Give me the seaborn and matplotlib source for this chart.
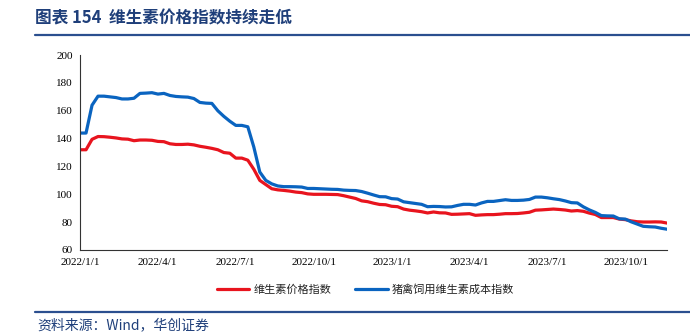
import numpy as np
import pandas as pd
import matplotlib
matplotlib.use("Agg")
import matplotlib.pyplot as plt
import seaborn as sns

# weekly dates starting 2022-01-01
start_date = "2022-01-01"
n_weeks = 99

vitamin_price_index = [
    132, 132, 139.5, 141.5, 141.4, 141, 140.5, 139.8, 139.6, 138.5,
    139, 139, 138.8, 138, 137.8, 136.3, 135.8, 135.8, 136, 135.5,
    134.5, 133.8, 133, 132, 130, 129.5, 126, 126, 124.5, 118,
    110, 107, 104, 103.2, 102.8, 102.3, 101.6, 101.2, 100.3, 100,
    100, 100, 99.9, 99.8, 99, 98, 97, 95.3, 94.7, 93.6,
    92.7, 92.5, 91.4, 91.1, 89.4, 88.6, 88.1, 87.5, 86.6, 87.3,
    86.7, 86.6, 85.6, 85.7, 85.9, 86.1, 84.9, 85.2, 85.4, 85.4,
    85.7, 86.1, 86.1, 86.2, 86.6, 87.1, 88.6, 88.8, 89.1, 89.4,
    89.1, 88.7, 88, 88.3, 87.8, 86.5, 85.5, 83.3, 83.3, 83.3,
    82.2, 81.8, 80.9, 80.3, 80.1, 80.1, 80.2, 80.1, 79.3,
]

feed_vitamin_cost_index = [
    144, 144, 164, 170.5, 170.5, 170, 169.5, 168.5, 168.5, 169,
    172.5, 172.7, 173, 172, 172.5, 171, 170.3, 170, 169.8, 168.8,
    166, 165.5, 165.3, 160, 156, 152.5, 149.5, 149.5, 148.5, 134,
    116, 110, 107.5, 106, 105.5, 105.5, 105.4, 105.2, 104.2, 104.2,
    104, 103.8, 103.6, 103.5, 103, 102.8, 102.7, 102, 100.8, 99.5,
    98.3, 98.2, 96.9, 96.6, 94.6, 94, 93.4, 92.8, 91.1, 91.3,
    91.2, 90.9, 91, 92, 92.8, 92.8, 92.3, 93.8, 94.9, 94.9,
    95.5, 96.1, 95.6, 95.6, 95.8, 96.3, 98, 98, 97.5, 96.8,
    96.2, 95.2, 94, 93.8, 91, 88.8, 87, 84.7, 84.5, 84.4,
    82.4, 82.2, 80.2, 78.6, 77, 76.7, 76.5, 75.6, 74.9,
]

series_names = ["维生素价格指数", "猪禽饲用维生素成本指数"]
series_colors = ["#E8141E", "#0A64C0"]

x_tick_dates = ["2022-01-01", "2022-04-01", "2022-07-01", "2022-10-01",
                "2023-01-01", "2023-04-01", "2023-07-01", "2023-10-01"]
x_tick_labels = ["2022/1/1", "2022/4/1", "2022/7/1", "2022/10/1",
                 "2023/1/1", "2023/4/1", "2023/7/1", "2023/10/1"]
y_ticks = [60, 80, 100, 120, 140, 160, 180, 200]

title_text = "图表 154  维生素价格指数持续走低"
source_text = "资料来源：Wind，华创证券"

dates = pd.date_range(start_date, periods=n_weeks, freq="7D")
df = pd.concat([
    pd.DataFrame({"date": dates, "value": vitamin_price_index, "series": series_names[0]}),
    pd.DataFrame({"date": dates, "value": feed_vitamin_cost_index, "series": series_names[1]}),
])

sns.set_theme(style="white")
plt.rcParams["font.family"] = ["Noto Sans CJK SC", "DejaVu Sans"]

fig = plt.figure(figsize=(6.9, 3.36), dpi=100)
ax = fig.add_axes([0.116, 0.256, 0.851, 0.580])

sns.lineplot(data=df, x="date", y="value", hue="series", hue_order=series_names,
             palette=series_colors, linewidth=2.3, ax=ax, legend=True)

ax.set_xlim(dates[0], dates[-1])
ax.set_ylim(60, 200)
ax.set_yticks(y_ticks)
ax.set_yticklabels([str(v) for v in y_ticks], fontfamily="Liberation Serif", fontsize=8)
ax.set_xticks(pd.to_datetime(x_tick_dates))
ax.set_xticklabels(x_tick_labels, fontfamily="Liberation Serif", fontsize=8)
ax.set_xlabel("")
ax.set_ylabel("")
for s in ["top", "right"]:
    ax.spines[s].set_visible(False)
for s in ["left", "bottom"]:
    ax.spines[s].set_color("#333333")
    ax.spines[s].set_linewidth(0.8)
ax.tick_params(axis="both", which="major", direction="out", length=3, width=0.8,
               color="#333333", labelcolor="#000000", pad=2)
ax.tick_params(axis="x", pad=3)

leg = ax.legend(loc="center", bbox_to_anchor=(365.5 / 690, 1 - 290 / 336),
                bbox_transform=fig.transFigure, ncol=2, frameon=False,
                fontsize=8, handlelength=2.9, columnspacing=2.2, handletextpad=0.35,
                borderpad=0)
for t in leg.get_texts():
    t.set_color("#222222")

# title and rule lines
fig.text(35 / 690, 1 - 18 / 336, title_text, fontsize=12, fontweight="bold",
         color="#1F3F7A", va="center", ha="left")
fig.add_artist(plt.Line2D([35 / 690, 1.0], [1 - 35 / 336, 1 - 35 / 336],
                          color="#2B4F8F", linewidth=1.6))
fig.add_artist(plt.Line2D([35 / 690, 1.0], [1 - 312 / 336, 1 - 312 / 336],
                          color="#2B4F8F", linewidth=1.6))
fig.text(37 / 690, 1 - 325 / 336, source_text, fontsize=10, style="italic",
         color="#1F3F7A", va="center", ha="left")

fig.savefig("out.png", dpi=100)
